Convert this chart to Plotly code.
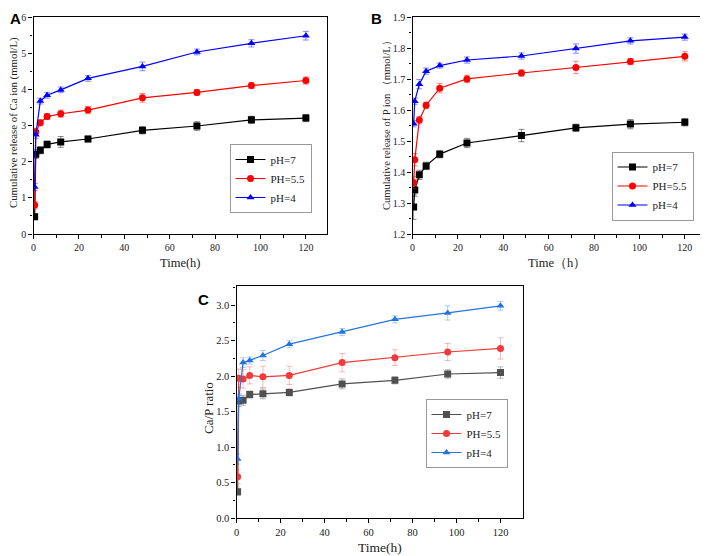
import plotly.graph_objects as go

time_h = [0.5, 1, 3, 6, 12, 24, 48, 72, 96, 120]
series_names = ["pH=7", "PH=5.5", "pH=4"]

# Panel A: cumulative Ca release (mmol/L)
ca_ph7 = [0.48, 2.21, 2.32, 2.48, 2.55, 2.63, 2.87, 2.99, 3.16, 3.21]
ca_ph55 = [0.80, 2.83, 3.08, 3.25, 3.33, 3.43, 3.77, 3.92, 4.11, 4.25]
ca_ph4 = [1.30, 2.75, 3.68, 3.84, 3.99, 4.31, 4.64, 5.04, 5.28, 5.49]
ca_ph7_err = [0.08, 0.12, 0.10, 0.10, 0.15, 0.08, 0.10, 0.12, 0.10, 0.10]
ca_ph55_err = [0.10, 0.10, 0.08, 0.08, 0.10, 0.10, 0.12, 0.08, 0.08, 0.10]
ca_ph4_err = [0.10, 0.10, 0.08, 0.08, 0.08, 0.08, 0.12, 0.08, 0.10, 0.12]

# Panel B: cumulative P release (mmol/L)
p_ph7 = [1.287, 1.342, 1.391, 1.420, 1.458, 1.494, 1.518, 1.543, 1.555, 1.561]
p_ph55 = [1.366, 1.440, 1.568, 1.616, 1.671, 1.701, 1.720, 1.738, 1.757, 1.774]
p_ph4 = [1.556, 1.629, 1.684, 1.726, 1.744, 1.762, 1.775, 1.799, 1.824, 1.836]
p_ph7_err = [0.04, 0.02, 0.015, 0.012, 0.012, 0.015, 0.02, 0.012, 0.015, 0.012]
p_ph55_err = [0.02, 0.02, 0.012, 0.01, 0.015, 0.012, 0.01, 0.02, 0.01, 0.015]
p_ph4_err = [0.01, 0.01, 0.015, 0.01, 0.008, 0.01, 0.01, 0.015, 0.01, 0.01]

# Panel C: Ca/P ratio
r_ph7 = [0.37, 1.65, 1.66, 1.74, 1.75, 1.77, 1.89, 1.94, 2.03, 2.05]
r_ph55 = [0.58, 1.97, 1.96, 2.01, 1.99, 2.01, 2.19, 2.26, 2.34, 2.39]
r_ph4 = [0.83, 1.68, 2.19, 2.22, 2.29, 2.45, 2.62, 2.80, 2.89, 2.99]
r_ph7_err = [0.05, 0.08, 0.07, 0.05, 0.07, 0.05, 0.07, 0.05, 0.06, 0.08]
r_ph55_err = [0.10, 0.13, 0.13, 0.12, 0.15, 0.13, 0.13, 0.11, 0.12, 0.15]
r_ph4_err = [0.07, 0.07, 0.07, 0.05, 0.07, 0.05, 0.05, 0.05, 0.10, 0.06]

SERIF = "Liberation Serif, Times New Roman, serif"
fig = go.Figure()

symbols = ["square", "circle", "triangle-up"]
colors_ab = ["#000000", "#ff0000", "#0000ff"]
err_ab = ["rgba(0,0,0,0.45)", "rgba(255,0,0,0.45)", "rgba(0,0,255,0.45)"]
colors_c = ["#505050", "#f23a3a", "#2474e0"]
err_c = ["rgba(80,80,80,0.4)", "rgba(242,58,58,0.35)", "rgba(36,116,224,0.35)"]

panels = [
    ("x", "y", "legend", [ca_ph7, ca_ph55, ca_ph4], [ca_ph7_err, ca_ph55_err, ca_ph4_err], colors_ab, err_ab),
    ("x2", "y2", "legend2", [p_ph7, p_ph55, p_ph4], [p_ph7_err, p_ph55_err, p_ph4_err], colors_ab, err_ab),
    ("x3", "y3", "legend3", [r_ph7, r_ph55, r_ph4], [r_ph7_err, r_ph55_err, r_ph4_err], colors_c, err_c),
]
for xa, ya, lg, ys, es, cols, ecols in panels:
    for i in range(3):
        fig.add_trace(go.Scatter(
            x=time_h, y=ys[i], mode="lines+markers", name=series_names[i],
            xaxis=xa, yaxis=ya, legend=lg,
            line=dict(color=cols[i], width=1.2),
            marker=dict(symbol=symbols[i], size=7, color=cols[i]),
            error_y=dict(type="data", array=es[i], color=ecols[i], thickness=1, width=3),
        ))

def xax(domain, rng, anchor, fs):
    return dict(domain=domain, range=rng, anchor=anchor, tickmode="array", automargin=False,
                tickvals=[0, 20, 40, 60, 80, 100, 120], ticks="outside", ticklen=4,
                tickwidth=1, tickcolor="black",
                minor=dict(tickvals=[10, 30, 50, 70, 90, 110], ticks="outside", ticklen=2.5, tickcolor="black"),
                showline=True, linecolor="black", linewidth=1.3, mirror=True,
                showgrid=False, zeroline=False,
                tickfont=dict(family=SERIF, size=fs, color="#222"))

def yax(domain, rng, anchor, tickvals, ticktext, minorvals, fs):
    return dict(domain=domain, range=rng, anchor=anchor, tickmode="array", automargin=False,
                tickvals=tickvals, ticktext=ticktext, ticks="outside", ticklen=4,
                tickwidth=1, tickcolor="black",
                minor=dict(tickvals=minorvals, ticks="outside", ticklen=2.5, tickcolor="black"),
                showline=True, linecolor="black", linewidth=1.3, mirror=True,
                showgrid=False, zeroline=False,
                tickfont=dict(family=SERIF, size=fs, color="#222"))

# The page body adds an 8px offset; work in screen pixels and convert.
OX, OY = 8, 8
W, H = 700, 548

def px_x(v):
    return (v - OX) / W

def px_y(v):
    return 1 - (v - OY) / H

dA_x = [px_x(33.5), px_x(327)]
dB_x = [px_x(412.5), px_x(703)]
dC_x = [px_x(236.5), px_x(522.5)]
d_top_y = [px_y(234), px_y(17.3)]
dC_y = [px_y(518), px_y(286)]

fig.update_layout(
    width=W, height=H, margin=dict(l=0, r=0, t=0, b=0, autoexpand=False),
    paper_bgcolor="white", plot_bgcolor="white", showlegend=True,
    xaxis=xax(dA_x, [0, 129.3], "y", 10),
    yaxis=yax(d_top_y, [0, 6], "x", [0, 1, 2, 3, 4, 5, 6], ["0", "1", "2", "3", "4", "5", "6"],
              [0.5, 1.5, 2.5, 3.5, 4.5, 5.5], 10),
    xaxis2=xax(dB_x, [0, 128], "y2", 10),
    yaxis2=yax(d_top_y, [1.2, 1.9], "x2", [1.2, 1.3, 1.4, 1.5, 1.6, 1.7, 1.8, 1.9],
               ["1.2", "1.3", "1.4", "1.5", "1.6", "1.7", "1.8", "1.9"],
               [1.25, 1.35, 1.45, 1.55, 1.65, 1.75, 1.85], 10),
    xaxis3=xax(dC_x, [0, 130], "y3", 10.5),
    yaxis3=yax(dC_y, [0, 3.27], "x3", [0, 0.5, 1.0, 1.5, 2.0, 2.5, 3.0],
               ["0.0", "0.5", "1.0", "1.5", "2.0", "2.5", "3.0"],
               [0.25, 0.75, 1.25, 1.75, 2.25, 2.75, 3.25], 10.5),
)

# axis titles as annotations
titles = [
    ("Time(h)", 180, 263, 0, 12.5),
    ("Cumulative release of Ca ion (mmol/L)", 13, 123, -90, 10.8),
    ("Time（h）", 557, 263, 0, 12.5),
    ("Cumulative release of P ion （mmol/L）", 386, 123, -90, 10.5),
    ("Time(h)", 380, 547, 0, 13.5),
    ("Ca/P ratio", 208, 408, -90, 13),
]
for txt, px, py, ang, fs in titles:
    fig.add_annotation(text=txt, xref="paper", yref="paper", x=px_x(px), y=px_y(py),
                       xanchor="center", yanchor="middle", showarrow=False, textangle=ang,
                       font=dict(family=SERIF, size=fs, color="#222"))

leg_common = dict(bgcolor="white", bordercolor="#999", borderwidth=1,
                  font=dict(family=SERIF, size=11, color="#222"),
                  xanchor="center", yanchor="middle", itemwidth=30, tracegroupgap=0,
                  xref="paper", yref="paper")
fig.update_layout(
    legend=dict(x=px_x(270.5), y=px_y(178.5), **leg_common),
    legend2=dict(x=px_x(652.5), y=px_y(186), **leg_common),
    legend3=dict(x=px_x(466.5), y=px_y(433.5), **leg_common),
)

for txt, px, py in [("A", 3, 3), ("B", 369, 3), ("C", 196, 289)]:
    fig.add_annotation(text="<b>%s</b>" % txt, xref="paper", yref="paper",
                       x=max(px_x(px), 0), y=min(px_y(py), 1), xanchor="left", yanchor="top",
                       showarrow=False,
                       font=dict(family="Liberation Sans, Arial, sans-serif", size=15, color="black"))

fig.write_html("out.html")
